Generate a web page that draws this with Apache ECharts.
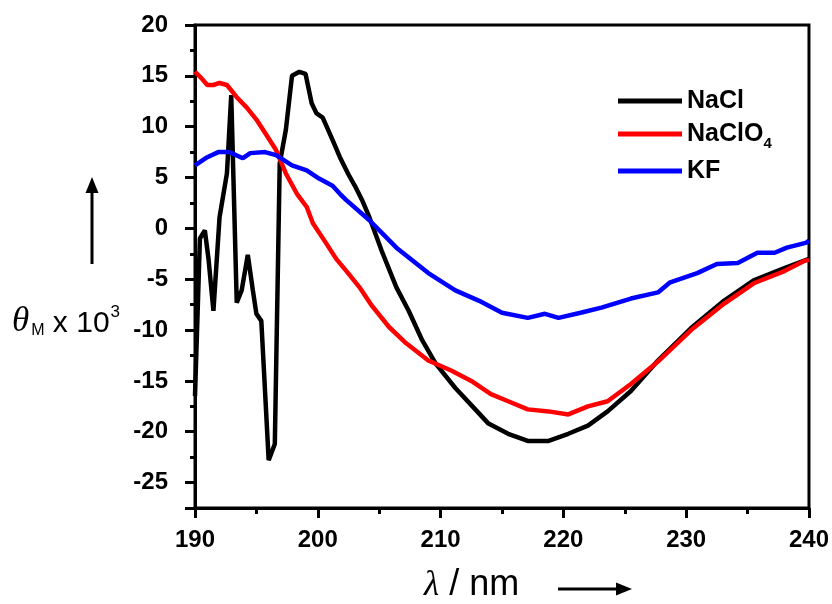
<!DOCTYPE html>
<html>
<head>
<meta charset="utf-8">
<script src="https://cdn.jsdelivr.net/npm/echarts@6/dist/echarts.min.js"></script>
<style>
html,body{margin:0;padding:0;background:#fff;}
#chart{width:832px;height:604px;}
</style>
</head>
<body>
<div id="chart"></div>
<script>
// ---- data (wavelength in nm, theta_M x 10^3) ----
var seriesNames = ['NaCl', 'NaClO4', 'KF'];
var seriesColors = ['#000000', '#ff0000', '#0000ff'];

var naclX = [190.0,190.4,190.8,191.1,191.5,192.0,192.6,192.95,193.4,193.8,194.3,194.7,195.0,195.4,196.0,196.5,196.9,197.4,197.9,198.5,199.0,199.5,199.9,200.4,201.2,201.8,202.5,203.1,203.6,204.2,205.2,206.4,207.4,208.5,209.6,211.2,212.9,213.9,215.5,217.1,218.8,220.4,222.0,223.6,225.5,227.7,230.4,233.1,235.5,238.0,240.0];
var naclY = [-16.5,-1.0,-0.2,-3.0,-8.1,1.1,5.4,13.1,-7.3,-6.1,-2.6,-6.0,-8.4,-9.1,-22.8,-21.2,6.4,9.7,15.0,15.4,15.2,12.3,11.3,10.9,8.7,7.0,5.3,4.0,2.8,1.1,-2.2,-5.8,-8.1,-11.0,-13.3,-15.7,-17.9,-19.2,-20.2,-20.9,-20.9,-20.2,-19.4,-18.0,-16.0,-13.0,-9.8,-7.1,-5.1,-3.9,-3.0];

var clo4X = [190.0,190.5,191.0,191.5,192.0,192.6,193.4,194.2,195.0,195.7,196.6,197.4,198.3,199.1,199.6,200.7,201.5,202.4,203.4,204.4,205.8,207.2,209.0,210.9,212.5,214.1,215.5,217.1,218.8,220.4,222.0,223.6,225.5,227.7,230.4,233.1,235.5,238.0,239.6,240.0];
var clo4Y = [15.4,14.8,14.1,14.1,14.3,14.1,12.9,11.9,10.7,9.4,7.7,5.4,3.4,2.1,0.5,-1.5,-3.0,-4.3,-5.8,-7.6,-9.7,-11.3,-13.0,-14.0,-15.0,-16.3,-17.0,-17.8,-18.0,-18.3,-17.5,-17.0,-15.3,-13.1,-10.0,-7.4,-5.4,-4.2,-3.2,-3.1];

var kfX = [190.0,191.0,191.9,192.8,193.9,194.5,195.7,196.6,197.9,199.1,200.1,201.2,201.8,202.3,204.2,206.4,209.0,211.2,213.1,215.0,217.1,218.5,219.6,221.4,223.1,225.5,227.7,228.7,230.9,232.5,234.2,235.8,237.2,238.2,239.8,240.0];
var kfY = [6.2,7.0,7.5,7.5,6.9,7.4,7.5,7.2,6.2,5.7,4.9,4.2,3.4,2.8,0.8,-1.9,-4.4,-6.1,-7.1,-8.3,-8.8,-8.4,-8.8,-8.3,-7.8,-6.9,-6.3,-5.3,-4.4,-3.5,-3.4,-2.4,-2.4,-1.9,-1.4,-1.2];

function pairs(xs, ys) { return xs.map(function (x, i) { return [x, ys[i]]; }); }
var allX = [naclX, clo4X, kfX];
var allY = [naclY, clo4Y, kfY];

var chart = echarts.init(document.getElementById('chart'), null, {renderer: 'canvas'});
var FONT = 'Liberation Sans, Arial, sans-serif';
var SERIF = 'Liberation Serif, Times New Roman, serif';

var series = seriesNames.map(function (name, i) {
  return {
    name: name,
    type: 'line',
    data: pairs(allX[i], allY[i]),
    showSymbol: false,
    symbol: 'none',
    lineStyle: {color: seriesColors[i], width: 4.5},
    itemStyle: {color: seriesColors[i]},
    animation: false
  };
});

chart.setOption({
  backgroundColor: '#ffffff',
  animation: false,
  grid: {left: 195, right: 20, top: 25, bottom: 96, show: true, borderColor: '#000', borderWidth: 3, backgroundColor: 'transparent'},
  legend: {
    orient: 'vertical',
    left: 613,
    top: 83,
    itemWidth: 64,
    itemHeight: 5,
    itemGap: 7,
    icon: 'rect',
    data: seriesNames,
    formatter: function (name) { return name === 'NaClO4' ? 'NaClO{sub|4}' : name; },
    textStyle: {
      fontFamily: FONT, fontWeight: 'bold', fontSize: 25, color: '#000', lineHeight: 26,
      rich: {sub: {fontFamily: FONT, fontWeight: 'bold', fontSize: 15, color: '#000', lineHeight: 26, verticalAlign: 'bottom', padding: [0, 0, -4, 0]}}
    }
  },
  xAxis: {
    type: 'value',
    min: 190, max: 240, interval: 10,
    axisLine: {show: true, onZero: false, lineStyle: {color: '#000', width: 3}},
    axisTick: {show: true, inside: false, length: 10, lineStyle: {color: '#000', width: 3}},
    minorTick: {show: true, splitNumber: 2, length: 6, lineStyle: {color: '#000', width: 3}},
    splitLine: {show: false},
    axisLabel: {fontFamily: FONT, fontWeight: 'bold', fontSize: 24, color: '#000', margin: 20}
  },
  yAxis: {
    type: 'value',
    min: -27.5, max: 20, splitNumber: 10,
    axisLine: {show: true, onZero: false, lineStyle: {color: '#000', width: 3}},
    axisTick: {show: true, inside: false, length: 10, lineStyle: {color: '#000', width: 3}},
    minorTick: {show: true, splitNumber: 2, length: 5, lineStyle: {color: '#000', width: 3}},
    splitLine: {show: false},
    axisLabel: {fontFamily: FONT, fontWeight: 'bold', fontSize: 24, color: '#000', margin: 27, showMinLabel: false,
      formatter: function (v) { return (Math.abs(v % 5) < 1e-9) ? String(v) : ''; }}
  },
  graphic: [
    // y-axis title: theta_M x 10^3
    {type: 'text', left: 12, top: 299, style: {
      text: '{t|θ}{m|M}{x| x 10}{s|3}',
      rich: {
        t: {fontFamily: SERIF, fontStyle: 'italic', fontSize: 35, fill: '#000', lineHeight: 40, verticalAlign: 'bottom'},
        m: {fontFamily: FONT, fontSize: 16, fill: '#000', lineHeight: 40, verticalAlign: 'bottom', padding: [0, 0, 0, 2]},
        x: {fontFamily: FONT, fontSize: 30, fill: '#000', lineHeight: 40, verticalAlign: 'bottom'},
        s: {fontFamily: FONT, fontSize: 17, fill: '#000', lineHeight: 40, verticalAlign: 'top', padding: [5, 0, 0, 1]}
      }
    }},
    // up arrow
    {type: 'line', shape: {x1: 92, y1: 264, x2: 92, y2: 188}, style: {stroke: '#000', lineWidth: 3}},
    {type: 'polygon', shape: {points: [[92, 177], [85.5, 193], [98.5, 193]]}, style: {fill: '#000'}},
    // x-axis title: lambda / nm
    {type: 'text', x: 424, y: 603, style: {
      text: '{l|λ}{n| / nm}',
      verticalAlign: 'bottom',
      align: 'left',
      rich: {
        l: {fontFamily: SERIF, fontStyle: 'italic', fontSize: 35, fill: '#000', lineHeight: 36, verticalAlign: 'bottom'},
        n: {fontFamily: FONT, fontSize: 36, fill: '#000', lineHeight: 36, verticalAlign: 'bottom'}
      }
    }},
    // right arrow
    {type: 'line', shape: {x1: 558, y1: 589, x2: 620, y2: 589}, style: {stroke: '#000', lineWidth: 3}},
    {type: 'polygon', shape: {points: [[632, 589], [616, 582.5], [616, 595.5]]}, style: {fill: '#000'}}
  ],
  series: series
});
</script>
</body>
</html>
